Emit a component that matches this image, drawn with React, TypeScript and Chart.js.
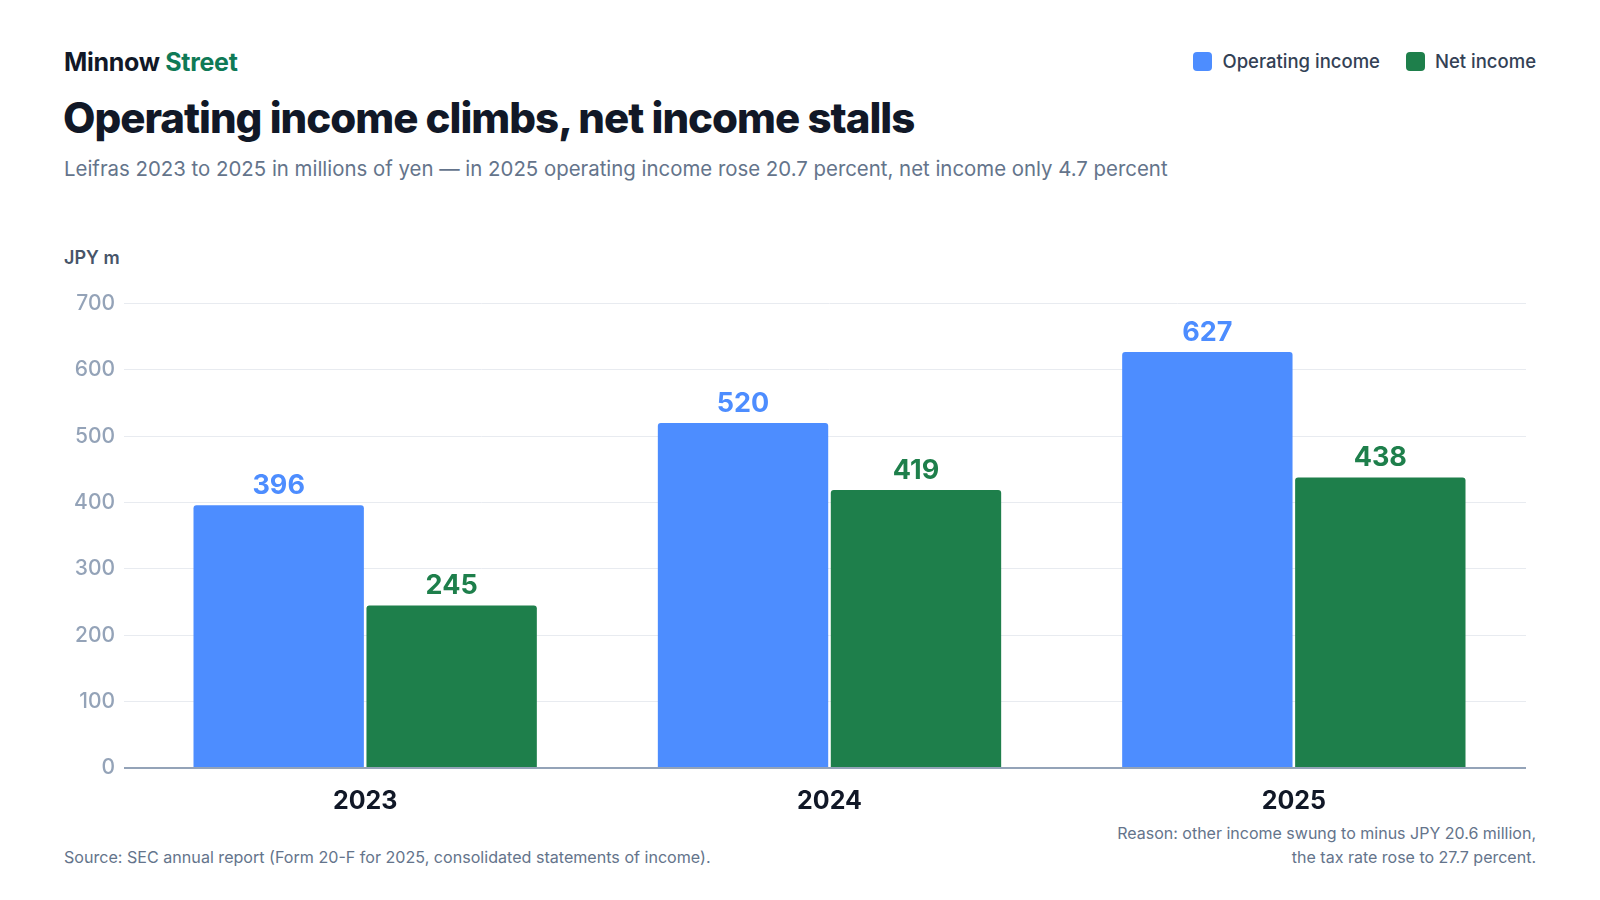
import { useEffect, useRef } from 'react'
import { Chart, registerables, Plugin } from 'chart.js'

Chart.register(...registerables)

const years = ['2023', '2024', '2025']
const operatingIncome = [396, 520, 627]
const netIncome = [245, 419, 438]
const yTicks = [0, 100, 200, 300, 400, 500, 600, 700]

const BLUE = '#4d8dff'
const GREEN = '#1e7f4b'
const GRID = '#e8ebf0'
const BASELINE = '#94a3b8'
const FONT = 'Inter, "Noto Sans", sans-serif'

const valueLabels: Plugin<'bar'> = {
  id: 'valueLabels',
  afterDatasetsDraw(chart) {
    const { ctx } = chart
    ctx.save()
    ctx.font = `700 27px ${FONT}`
    ctx.textAlign = 'center'
    ctx.textBaseline = 'bottom'
    chart.data.datasets.forEach((ds, i) => {
      const meta = chart.getDatasetMeta(i)
      ctx.fillStyle = ds.backgroundColor as string
      meta.data.forEach((bar, j) => {
        ctx.fillText(String(ds.data[j]), bar.x, bar.y - 6)
      })
    })
    ctx.restore()
  }
}

function IncomeChart() {
  const canvasRef = useRef<HTMLCanvasElement | null>(null)
  const chartRef = useRef<Chart | null>(null)

  useEffect(() => {
    const ctx = canvasRef.current?.getContext('2d')
    if (!ctx) return
    if (chartRef.current) chartRef.current.destroy()

    chartRef.current = new Chart(ctx, {
      type: 'bar',
      data: {
        labels: years,
        datasets: [
          {
            label: 'Operating income',
            data: operatingIncome,
            backgroundColor: BLUE,
            borderRadius: { topLeft: 3, topRight: 3 },
            borderSkipped: 'bottom',
            barPercentage: 0.985,
            categoryPercentage: 0.745
          },
          {
            label: 'Net income',
            data: netIncome,
            backgroundColor: GREEN,
            borderRadius: { topLeft: 3, topRight: 3 },
            borderSkipped: 'bottom',
            barPercentage: 0.985,
            categoryPercentage: 0.745
          }
        ]
      },
      options: {
        animation: false,
        responsive: false,
        maintainAspectRatio: false,
        layout: { padding: { top: 12, right: 10, left: 0, bottom: 0 } },
        plugins: {
          legend: { display: false },
          tooltip: { enabled: false }
        },
        scales: {
          x: {
            grid: { display: false },
            border: { display: false },
            ticks: {
              color: '#111827',
              padding: 10,
              font: { family: FONT, size: 25, weight: 700 }
            },
            afterFit: (scale) => {
              scale.height = 53
            }
          },
          y: {
            min: 0,
            max: 700,
            afterBuildTicks: (scale) => {
              scale.ticks = yTicks.map((v) => ({ value: v }))
            },
            grid: {
              color: (c) => (c.tick && c.tick.value === 0 ? BASELINE : GRID),
              tickColor: (c) => (c.tick && c.tick.value === 0 ? BASELINE : GRID),
              lineWidth: (c) => (c.tick && c.tick.value === 0 ? 2 : 1),
              drawTicks: true,
              tickLength: 9
            },
            border: { display: false },
            ticks: {
              color: '#94a3b8',
              padding: 9,
              font: { family: FONT, size: 21, weight: 500 }
            },
            afterFit: (scale) => {
              scale.width = 69
            }
          }
        }
      },
      plugins: [valueLabels]
    })

    return () => {
      chartRef.current?.destroy()
      chartRef.current = null
    }
  }, [])

  return <canvas ref={canvasRef} width={1472} height={539} style={{ width: 1472, height: 539, display: 'block' }} />
}

function LegendItem({ color, label }: { color: string; label: string }) {
  return (
    <div style={{ display: 'flex', alignItems: 'center', gap: 10 }}>
      <span style={{ width: 19, height: 19, borderRadius: 4, background: color, display: 'inline-block' }} />
      <span>{label}</span>
    </div>
  )
}

export default function App() {
  return (
    <div
      style={{
        position: 'fixed',
        left: 0,
        top: 0,
        width: 1600,
        height: 900,
        background: '#ffffff',
        fontFamily: FONT,
        overflow: 'hidden'
      }}
    >
      <div style={{ position: 'absolute', left: 64, top: 47, fontSize: 25, fontWeight: 700, color: '#111827', letterSpacing: -0.3 }}>
        Minnow <span style={{ color: '#0f7a56' }}>Street</span>
      </div>
      <div
        style={{
          position: 'absolute',
          right: 64,
          top: 50,
          display: 'flex',
          gap: 26,
          fontSize: 18.5,
          fontWeight: 500,
          color: '#334155'
        }}
      >
        <LegendItem color={BLUE} label="Operating income" />
        <LegendItem color={GREEN} label="Net income" />
      </div>
      <div style={{ position: 'absolute', left: 63, top: 92, fontSize: 42, fontWeight: 800, color: '#111827', letterSpacing: -1 }}>
        Operating income climbs, net income stalls
      </div>
      <div style={{ position: 'absolute', left: 64, top: 156, fontSize: 20.4, color: '#64748b' }}>
        Leifras 2023 to 2025 in millions of yen — in 2025 operating income rose 20.7 percent, net income only 4.7 percent
      </div>
      <div style={{ position: 'absolute', left: 64, top: 247, fontSize: 18, fontWeight: 600, color: '#475569' }}>JPY m</div>
      <div style={{ position: 'absolute', left: 64, top: 282 }}>
        <IncomeChart />
      </div>
      <div style={{ position: 'absolute', left: 64, top: 847, fontSize: 16.1, color: '#64748b' }}>
        Source: SEC annual report (Form 20-F for 2025, consolidated statements of income).
      </div>
      <div
        style={{
          position: 'absolute',
          right: 64,
          top: 821,
          fontSize: 16,
          color: '#64748b',
          textAlign: 'right',
          lineHeight: '24px'
        }}
      >
        Reason: other income swung to minus JPY 20.6 million,
        <br />
        the tax rate rose to 27.7 percent.
      </div>
    </div>
  )
}
